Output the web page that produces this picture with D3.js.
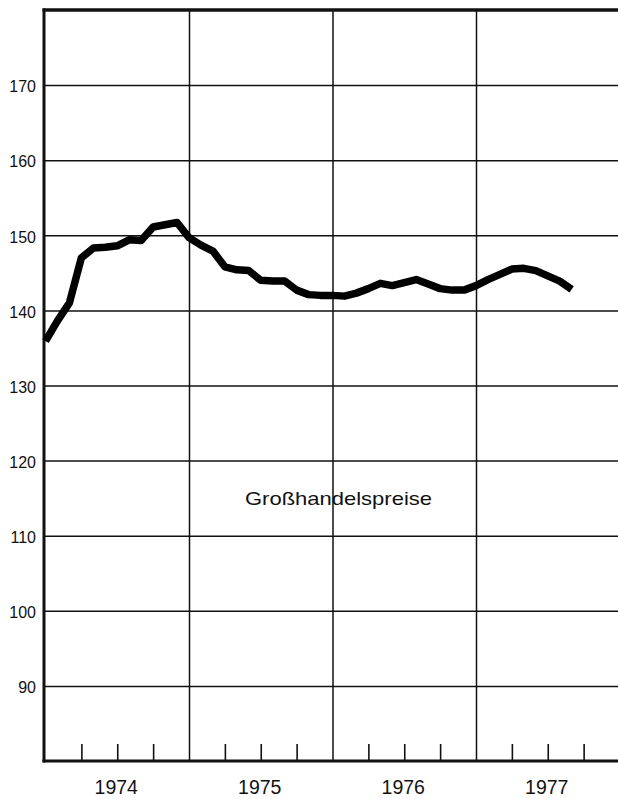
<!DOCTYPE html>
<html lang="de">
<head>
    <meta charset="UTF-8">
    <title>Großhandelspreise 1974-1977</title>
    <script src="https://cdn.jsdelivr.net/npm/d3@7"></script>
    <style>
        body{
            margin: 0;
            background: white;
            font-family: "Liberation Sans", Arial, sans-serif;
        }
        .yAxis text{
            font-size: 16px;
            fill: #111;
        }
        .yAxis .tick line, .yearLines .tick line{
            stroke: #111;
            stroke-width: 1.5;
        }
        .yAxis path, .yearLines path, .quarterTicks path{
            display: none;
        }
        .quarterTicks .tick line{
            stroke: #111;
            stroke-width: 1.6;
        }
        .yearLabel{
            font-size: 19.5px;
            fill: #111;
        }
    </style>
</head>
<body>
<svg id="main" width="618" height="799"></svg>
<script>
    // data: monthly index values, Jan 1974 .. Sep 1977
    const startYear = 1974;
    const years = [1974, 1975, 1976, 1977];
    const yTicks = [90, 100, 110, 120, 130, 140, 150, 160, 170];
    const values = [
        135.9, 138.6, 141.0, 147.0, 148.3, 148.4, 148.6, 149.4, 149.3, 151.1, 151.4, 151.7,
        149.7, 148.7, 147.9, 145.8, 145.4, 145.3, 144.0, 143.9, 143.9, 142.7, 142.1, 142.0,
        142.0, 141.9, 142.3, 142.9, 143.6, 143.3, 143.7, 144.1, 143.5, 142.9, 142.7, 142.7,
        143.3, 144.1, 144.8, 145.5, 145.6, 145.3, 144.6, 143.9, 142.8
    ];
    const seriesLabel = "Großhandelspreise";

    const width = 618, height = 799;
    const margin = {left: 44, top: 10, bottom: 761};

    const xScale = d3.scaleLinear()
        .domain([1974, 1978])
        .range([45.5, 619.5]);
    const yScale = d3.scaleLinear()
        .domain([80, 180])
        .range([margin.bottom, margin.top]);

    const svg = d3.select("svg#main");

    // horizontal grid + labels
    const yAxisGroup = svg.append("g")
        .attr("class", "yAxis")
        .attr("transform", `translate(${margin.left},0)`)
        .call(d3.axisLeft(yScale)
            .tickValues(yTicks)
            .tickSize(-(width - margin.left))
            .tickPadding(9));
    yAxisGroup.selectAll(".tick text")
        .attr("dy", "0.42em")
        .attr("x", -8);

    // vertical lines between years
    svg.append("g")
        .attr("class", "yearLines")
        .attr("transform", `translate(0,${margin.bottom})`)
        .call(d3.axisBottom(xScale)
            .tickValues(years.slice(1))
            .tickSize(-(margin.bottom - margin.top))
            .tickFormat(""));

    // quarter ticks along the bottom
    const quarters = [];
    years.forEach(y => [0.25, 0.5, 0.75].forEach(q => quarters.push(y + q)));
    svg.append("g")
        .attr("class", "quarterTicks")
        .attr("transform", `translate(0,${margin.bottom})`)
        .call(d3.axisBottom(xScale)
            .tickValues(quarters)
            .tickSize(-17)
            .tickFormat(""));

    // year labels
    svg.append("g").selectAll("text")
        .data(years)
        .join("text")
        .attr("class", "yearLabel")
        .attr("x", d => xScale(d + 0.5) - 1)
        .attr("y", 794)
        .attr("text-anchor", "middle")
        .text(d => d);

    // frame: left, top, bottom
    svg.append("line")
        .attr("x1", margin.left).attr("x2", margin.left)
        .attr("y1", margin.top - 1.5).attr("y2", margin.bottom + 1.5)
        .attr("stroke", "#111").attr("stroke-width", 3);
    svg.append("line")
        .attr("x1", margin.left - 1.5).attr("x2", width)
        .attr("y1", margin.top).attr("y2", margin.top)
        .attr("stroke", "#111").attr("stroke-width", 3.5);
    svg.append("line")
        .attr("x1", margin.left - 1.5).attr("x2", width)
        .attr("y1", margin.bottom).attr("y2", margin.bottom)
        .attr("stroke", "#111").attr("stroke-width", 3);

    // the price line
    const line = d3.line()
        .x((d, i) => xScale(startYear + i / 12))
        .y(d => yScale(d));
    svg.append("path")
        .datum(values)
        .attr("fill", "none")
        .attr("stroke", "#000")
        .attr("stroke-width", 7.5)
        .attr("stroke-linejoin", "round")
        .attr("d", line);

    svg.append("text")
        .attr("x", 245)
        .attr("y", 505)
        .attr("font-size", "19px")
        .attr("fill", "#111")
        .attr("textLength", 187)
        .attr("lengthAdjust", "spacingAndGlyphs")
        .text(seriesLabel);
</script>
</body>
</html>
